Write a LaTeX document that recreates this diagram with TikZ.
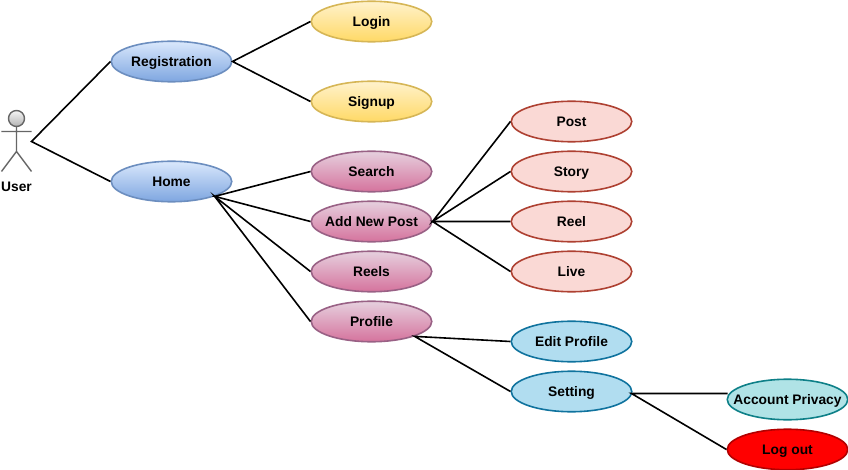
\documentclass[tikz,border=0pt]{standalone}
\usepackage{fontspec}
\setmainfont{Liberation Sans}
\usetikzlibrary{shapes.geometric}
\newcommand{\nc}[1]{\raisebox{-4.6pt}[0pt][0pt]{\makebox[0pt]{#1}}}
\tikzset{
  uc/.style={ellipse,minimum width=120.5pt,minimum height=40.5pt,inner sep=0pt,line width=1.6pt,
    font=\fontsize{13.8}{15}\selectfont\bfseries,text=black},
  ucblue/.style={uc,draw=bblue,top color=bbluet,bottom color=bblueb},
  ucpink/.style={uc,draw=ppink,top color=ppinkt,bottom color=ppinkb},
  ucyellow/.style={uc,draw=yyel,top color=yyelt,bottom color=yyelb},
  ucpeach/.style={uc,draw=ppeach,fill=ppeachf},
  ucsky/.style={uc,draw=ssky,fill=sskyf},
  ucteal/.style={uc,draw=tteal,fill=ttealf},
  ucred/.style={uc,draw=rred,fill=red},
  link/.style={draw=black,line width=1.6pt},
  actorline/.style={draw=agray,line width=1.4pt},
  actorlabel/.style={font=\fontsize{13.8}{15}\selectfont\bfseries,text=black,inner sep=0pt}
}
\definecolor{bblue}{HTML}{6C8EBF}\definecolor{bbluet}{HTML}{DAE8FC}\definecolor{bblueb}{HTML}{7EA6E0}
\definecolor{ppink}{HTML}{996185}\definecolor{ppinkt}{HTML}{E6D0DE}\definecolor{ppinkb}{HTML}{D5739D}
\definecolor{yyel}{HTML}{D6B656}\definecolor{yyelt}{HTML}{FFF2CC}\definecolor{yyelb}{HTML}{FFD966}
\definecolor{ppeach}{HTML}{AE4132}\definecolor{ppeachf}{HTML}{FAD9D5}
\definecolor{ssky}{HTML}{10739E}\definecolor{sskyf}{HTML}{B1DDF0}
\definecolor{tteal}{HTML}{0E8088}\definecolor{ttealf}{HTML}{B0E3E6}
\definecolor{rred}{HTML}{B20000}
\definecolor{agray}{HTML}{666666}\definecolor{aheadt}{HTML}{F5F5F5}\definecolor{aheadb}{HTML}{B3B3B3}
\begin{document}
\begin{tikzpicture}[x=1pt,y=-1pt]
\useasboundingbox (-0.5,-0.5) rectangle (847.5,469.5);
% actor
\node[circle,minimum size=16pt,inner sep=0pt,actorline,top color=aheadt,bottom color=aheadb] (head) at (16,118) {};
\coordinate (hip) at (16,151);
\coordinate (armL) at (1,131);
\coordinate (armR) at (31,131);
\coordinate (legL) at (1,171);
\coordinate (legR) at (31,171);
\draw[actorline] (head.south) -- (hip) (armL) -- (armR) (legL) -- (hip) -- (legR);
\node[actorlabel] (userlabel) at (16,186) {\nc{User}};
\coordinate (user) at (31,141);
% use cases
\node[ucblue] (reg) at (171,61) {\nc{Registration}};
\node[ucblue] (home) at (171,181) {\nc{Home}};
\node[ucyellow] (login) at (371,21) {\nc{Login}};
\node[ucyellow] (signup) at (371,101) {\nc{Signup}};
\node[ucpink] (search) at (371,171) {\nc{Search}};
\node[ucpink] (addpost) at (371,221) {\nc{Add New Post}};
\node[ucpink] (reels) at (371,271) {\nc{Reels}};
\node[ucpink] (profile) at (371,321) {\nc{Profile}};
\node[ucpeach] (post) at (571,121) {\nc{Post}};
\node[ucpeach] (story) at (571,171) {\nc{Story}};
\node[ucpeach] (reel) at (571,221) {\nc{Reel}};
\node[ucpeach] (live) at (571,271) {\nc{Live}};
\node[ucsky] (edit) at (571,341) {\nc{Edit Profile}};
\node[ucsky] (setting) at (571,391) {\nc{Setting}};
\node[ucteal] (privacy) at (787,399) {\nc{Account Privacy}};
\node[ucred] (logout) at (787,449) {\nc{Log out}};
\coordinate (privacyin) at (727,393);
\coordinate (settingout) at (631,393);
% connectors
\draw[link] (reg.west) -- (user) -- (home.west);
\draw[link] (login.west) -- (reg.east) -- (signup.west);
\draw[link] (search.west) -- (home.south east) -- (addpost.west);
\draw[link] (reels.west) -- (home.south east) -- (profile.west);
\draw[link] (post.west) -- (addpost.east) -- (story.west);
\draw[link] (reel.west) -- (addpost.east) -- (live.west);
\draw[link] (edit.west) -- (profile.south east) -- (setting.west);
\draw[link] (privacyin) -- (settingout) -- (logout.west);
\end{tikzpicture}
\end{document}
